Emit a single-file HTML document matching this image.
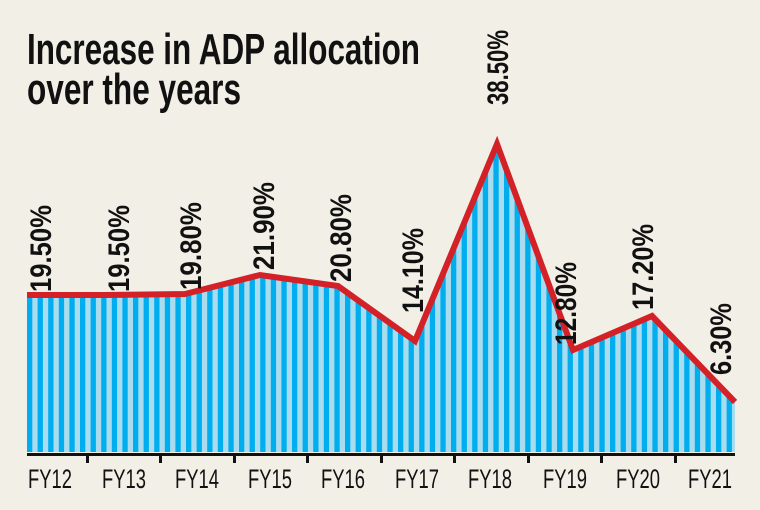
<!DOCTYPE html>
<html><head><meta charset="utf-8"><style>
html,body{margin:0;padding:0;background:#f2efe6;}
svg{display:block;}
</style></head><body>
<svg width="760" height="510" xmlns="http://www.w3.org/2000/svg">
<defs>
<pattern id="st" x="27" y="0" width="10.6" height="10" patternUnits="userSpaceOnUse">
<rect width="10.6" height="10" fill="#a9dcee"/>
<rect width="5.3" height="10" fill="#00aeef"/>
</pattern>
</defs>
<rect width="760" height="510" fill="#f2efe6"/>
<g font-family="'Liberation Sans',sans-serif" font-weight="bold" fill="#111">
<text x="27" y="64" font-size="44" textLength="393" lengthAdjust="spacingAndGlyphs">Increase in ADP allocation</text>
<text x="27" y="104" font-size="44" textLength="214" lengthAdjust="spacingAndGlyphs">over the years</text>
</g>
<polygon fill="url(#st)" points="27,452 27,295 105,295 185,294 260,275 338,286 415,341 497,144 573,350 652,316 735,402 735,452"/>
<polyline fill="none" stroke="#d42027" stroke-width="6" stroke-linejoin="miter" points="27,295 105,295 185,294 260,275 338,286 415,341 497,144 573,350 652,316 735,402"/>
<rect x="27" y="453" width="708" height="3" fill="#111"/>
<g fill="#111">
<rect x="86" y="453" width="3" height="10"/><rect x="159" y="453" width="3" height="10"/>
<rect x="233" y="453" width="3" height="10"/><rect x="306" y="453" width="3" height="10"/>
<rect x="380" y="453" width="3" height="10"/><rect x="453" y="453" width="3" height="10"/>
<rect x="527" y="453" width="3" height="10"/><rect x="600" y="453" width="3" height="10"/>
<rect x="674" y="453" width="3" height="10"/>
</g>
<g font-family="'Liberation Sans',sans-serif" font-size="27" fill="#111" text-anchor="middle">
<text x="50" y="488" textLength="44" lengthAdjust="spacingAndGlyphs">FY12</text>
<text x="124" y="488" textLength="44" lengthAdjust="spacingAndGlyphs">FY13</text>
<text x="197" y="488" textLength="44" lengthAdjust="spacingAndGlyphs">FY14</text>
<text x="270" y="488" textLength="44" lengthAdjust="spacingAndGlyphs">FY15</text>
<text x="343" y="488" textLength="44" lengthAdjust="spacingAndGlyphs">FY16</text>
<text x="417" y="488" textLength="44" lengthAdjust="spacingAndGlyphs">FY17</text>
<text x="490" y="488" textLength="44" lengthAdjust="spacingAndGlyphs">FY18</text>
<text x="565" y="488" textLength="44" lengthAdjust="spacingAndGlyphs">FY19</text>
<text x="638" y="488" textLength="44" lengthAdjust="spacingAndGlyphs">FY20</text>
<text x="710" y="488" textLength="44" lengthAdjust="spacingAndGlyphs">FY21</text>
</g>
<g font-family="'Liberation Sans',sans-serif" font-weight="bold" font-size="30" fill="#111">
<text transform="translate(51,292) rotate(-90)" textLength="87" lengthAdjust="spacingAndGlyphs">19.50%</text>
<text transform="translate(129,292) rotate(-90)" textLength="87" lengthAdjust="spacingAndGlyphs">19.50%</text>
<text transform="translate(201,290) rotate(-90)" textLength="88" lengthAdjust="spacingAndGlyphs">19.80%</text>
<text transform="translate(274,270) rotate(-90)" textLength="88" lengthAdjust="spacingAndGlyphs">21.90%</text>
<text transform="translate(351,282) rotate(-90)" textLength="88" lengthAdjust="spacingAndGlyphs">20.80%</text>
<text transform="translate(423,313) rotate(-90)" textLength="85" lengthAdjust="spacingAndGlyphs">14.10%</text>
<text transform="translate(508,105) rotate(-90)" textLength="75" lengthAdjust="spacingAndGlyphs">38.50%</text>
<text transform="translate(576,345) rotate(-90)" textLength="83" lengthAdjust="spacingAndGlyphs">12.80%</text>
<text transform="translate(653,310) rotate(-90)" textLength="86" lengthAdjust="spacingAndGlyphs">17.20%</text>
<text transform="translate(731,375) rotate(-90)" textLength="72" lengthAdjust="spacingAndGlyphs">6.30%</text>
</g>
</svg>
</body></html>
